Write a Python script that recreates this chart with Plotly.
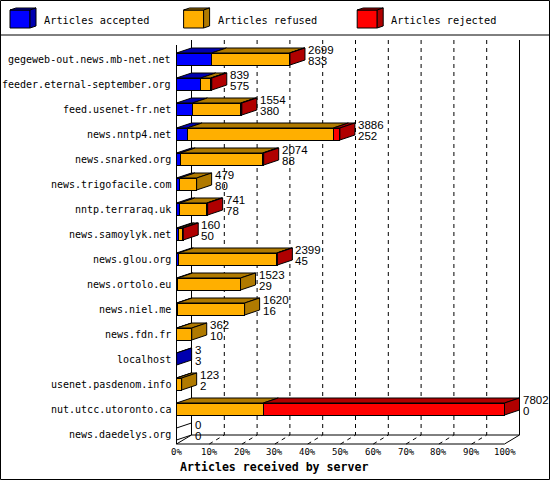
import plotly.graph_objects as go

# ---------------- data ----------------
servers = [
    "gegeweb-out.news.mb-net.net",
    "feeder.eternal-september.org",
    "feed.usenet-fr.net",
    "news.nntp4.net",
    "news.snarked.org",
    "news.trigofacile.com",
    "nntp.terraraq.uk",
    "news.samoylyk.net",
    "news.glou.org",
    "news.ortolo.eu",
    "news.niel.me",
    "news.fdn.fr",
    "localhost",
    "usenet.pasdenom.info",
    "nut.utcc.utoronto.ca",
    "news.daedelys.org",
]
accepted = [833, 575, 380, 252, 88, 80, 78, 50, 45, 29, 16, 10, 3, 2, 0, 0]
refused = [1854, 239, 1149, 3479, 1961, 399, 643, 86, 2339, 1494, 1604, 352, 0, 121, 2065, 0]
rejected = [12, 25, 25, 155, 25, 0, 20, 24, 15, 0, 0, 0, 0, 0, 5737, 0]

series_names = ["Articles accepted", "Articles refused", "Articles rejected"]
tick_labels = ["0%", "10%", "20%", "30%", "40%", "50%", "60%", "70%", "80%", "90%", "100%"]
tick_values = [0, 10, 20, 30, 40, 50, 60, 70, 80, 90, 100]
chart_title = "Articles received by server"

# ---------------- styles / geometry ----------------
front_colors = ["#0000FF", "#FFAF00", "#FF0000"]
dark_colors = ["#0000B0", "#B07A00", "#B00000"]

W, H = 550, 480
PX0, SX = 176.5, 3.28      # pixel of 0 %, pixels per percent
PY0, SY = 59.0, 25.0       # pixel of first row centre, pixels per row
DX, DY = 15 / SX, 5 / SY   # 3-D depth offset (data units)
BW = 12 / SY               # bar thickness (data units)

MONO = "DejaVu Sans Mono"
SANS = "Liberation Sans"


def xd(px):
    return (px - PX0) / SX


def yd(py):
    return (py - PY0) / SY


def xp(px):
    return px / W


def yp(py):
    return 1 - py / H


series = [accepted, refused, rejected]
totals = [a + b + c for a, b, c in zip(*series)]
tmax = max(totals)
pct = [[v / tmax * 100 for v in s] for s in series]
idx = list(range(len(servers)))

fig = go.Figure()
for s in range(3):
    fig.add_trace(go.Bar(
        x=pct[s], y=idx, orientation="h", width=BW,
        marker=dict(color=front_colors[s], line=dict(color="black", width=1)),
        name=series_names[s], showlegend=False, hoverinfo="skip",
    ))

shapes = []
line_blk = dict(color="black", width=1)
dash_blk = dict(color="black", width=1, dash="4px,4px")

top_back = yd(40)
bot_back = yd(435)
floor_front = yd(444)

# back wall grid lines and floor grid lines
for t in tick_values[1:-1]:
    xb = t + DX
    shapes.append(dict(type="line", xref="x", yref="y", x0=xb, x1=xb,
                       y0=top_back, y1=bot_back, line=dash_blk, layer="below"))
    shapes.append(dict(type="line", xref="x", yref="y", x0=t, x1=t + DX,
                       y0=floor_front, y1=bot_back, line=dash_blk, layer="below"))
# walls & floor edges
for xb in (DX, 100 + DX):
    shapes.append(dict(type="line", xref="x", yref="y", x0=xb, x1=xb,
                       y0=top_back, y1=bot_back, line=line_blk, layer="below"))
shapes.append(dict(type="line", xref="x", yref="y", x0=DX, x1=100 + DX,
                   y0=bot_back, y1=bot_back, line=line_blk, layer="below"))
shapes.append(dict(type="line", xref="x", yref="y", x0=0, x1=100,
                   y0=floor_front, y1=floor_front, line=line_blk, layer="below"))
for t in (0, 100):
    shapes.append(dict(type="line", xref="x", yref="y", x0=t, x1=t + DX,
                       y0=floor_front, y1=bot_back, line=line_blk, layer="below"))
shapes.append(dict(type="line", xref="x", yref="y", x0=0, x1=0,
                   y0=yd(45), y1=floor_front, line=line_blk, layer="below"))

# 3-D top and side faces
for i in idx:
    yt = i - BW / 2
    yb = i + BW / 2
    start = 0.0
    last = None
    for s in range(3):
        v = pct[s][i]
        if series[s][i] > 0:
            x0, x1 = start, start + v
            path = (f"M{x0},{yt} L{x0 + DX},{yt - DY} L{x1 + DX},{yt - DY} "
                    f"L{x1},{yt} Z")
            shapes.append(dict(type="path", xref="x", yref="y", path=path,
                               fillcolor=dark_colors[s], line=line_blk, layer="above"))
            last = s
        start += v
    xe = start
    path = (f"M{xe},{yt} L{xe + DX},{yt - DY} L{xe + DX},{yb - DY} "
            f"L{xe},{yb} Z")
    fill = dark_colors[last] if last is not None else "rgba(0,0,0,0)"
    shapes.append(dict(type="path", xref="x", yref="y", path=path,
                       fillcolor=fill, line=line_blk, layer="above"))

annotations = []
# value labels
for i in idx:
    xl = pct[0][i] + pct[1][i] + pct[2][i] + DX + 1.0 / SX
    annotations.append(dict(x=xl, y=i - 9 / SY, xref="x", yref="y", text=str(totals[i]),
                            showarrow=False, xanchor="left", yanchor="middle",
                            font=dict(family=SANS, size=11.5, color="black")))
    annotations.append(dict(x=xl, y=i + 2 / SY, xref="x", yref="y", text=str(accepted[i]),
                            showarrow=False, xanchor="left", yanchor="middle",
                            font=dict(family=SANS, size=11.5, color="black")))
# category labels
for i in idx:
    annotations.append(dict(x=xd(173), y=i, xref="x", yref="y", text=servers[i],
                            showarrow=False, xanchor="right", yanchor="middle",
                            font=dict(family=MONO, size=10, color="black")))
# x tick labels
for t, lab in zip(tick_values, tick_labels):
    annotations.append(dict(x=t, y=yd(452), xref="x", yref="y", text=lab,
                            showarrow=False, xanchor="center", yanchor="middle",
                            font=dict(family=MONO, size=9, color="black")))
# axis title
annotations.append(dict(x=xp(274), y=yp(467), xref="paper", yref="paper",
                        text="<b>" + chart_title + "</b>", showarrow=False,
                        xanchor="center", yanchor="middle",
                        font=dict(family=MONO, size=11.6, color="black")))

# legend (3-D cubes)
for j in range(3):
    cx = 10 + j * 173.6
    shapes.append(dict(type="rect", xref="paper", yref="paper",
                       x0=xp(cx), x1=xp(cx + 20), y0=yp(28), y1=yp(10),
                       fillcolor=front_colors[j], line=line_blk))
    top = (f"M{xp(cx)},{yp(10)} L{xp(cx + 6)},{yp(8)} L{xp(cx + 26)},{yp(8)} "
           f"L{xp(cx + 20)},{yp(10)} Z")
    side = (f"M{xp(cx + 20)},{yp(10)} L{xp(cx + 26)},{yp(8)} L{xp(cx + 26)},{yp(26)} "
            f"L{xp(cx + 20)},{yp(28)} Z")
    for p in (top, side):
        shapes.append(dict(type="path", xref="paper", yref="paper", path=p,
                           fillcolor=dark_colors[j], line=line_blk))
    annotations.append(dict(x=xp(cx + 32), y=yp(20), xref="paper", yref="paper",
                            text=series_names[j], showarrow=False,
                            xanchor="left", yanchor="middle",
                            font=dict(family=MONO, size=10.3, color="black")))

# legend separator and outer border
shapes.append(dict(type="line", xref="paper", yref="paper", x0=0, x1=1,
                   y0=yp(35), y1=yp(35), line=line_blk))
shapes.append(dict(type="rect", xref="paper", yref="paper",
                   x0=xp(0.5), x1=xp(549.5), y0=yp(479.5), y1=yp(0.5),
                   line=line_blk, fillcolor="rgba(0,0,0,0)"))

fig.update_layout(
    width=W, height=H, autosize=False,
    margin=dict(l=0, r=0, t=0, b=0, pad=0),
    paper_bgcolor="white", plot_bgcolor="white",
    barmode="stack", showlegend=False,
    xaxis=dict(range=[xd(0), xd(W)], visible=False, fixedrange=True),
    yaxis=dict(range=[yd(H), yd(0)], visible=False, fixedrange=True),
    shapes=shapes, annotations=annotations,
)

fig.write_html(
    "out.html",
    config={"displayModeBar": False},
    post_script="document.body.style.margin='0';document.body.style.overflow='hidden';",
)
